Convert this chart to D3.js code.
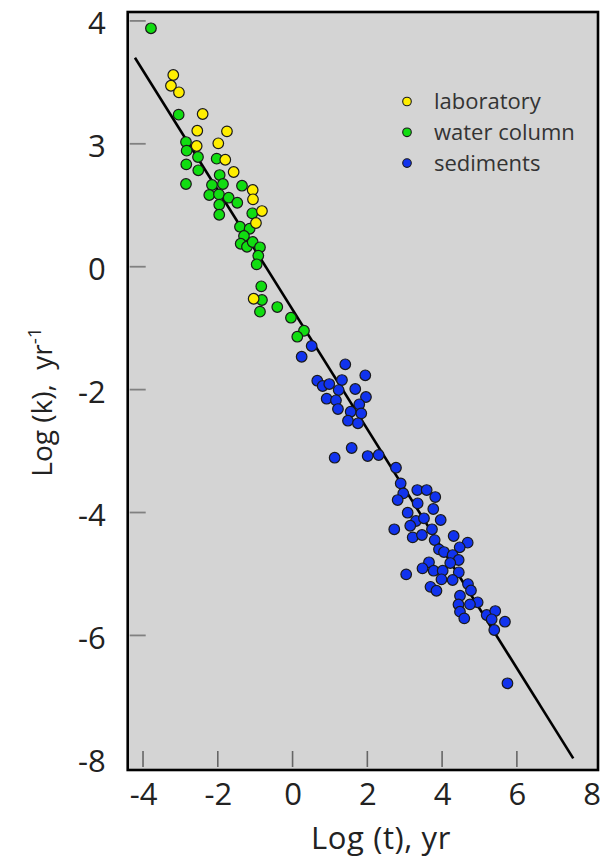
<!DOCTYPE html>
<html><head><meta charset="utf-8">
<script src="https://cdn.jsdelivr.net/npm/d3@7"></script>
<style>
html,body{margin:0;padding:0;background:#fff;}
svg text{font-family:"Open Sans",sans-serif;}
</style></head>
<body><svg id="c" width="606" height="859"></svg>
<script>
// ---- data ----
const labX = [-3.191,-3.253,-3.039,-2.405,-2.549,-1.755,-1.987,-2.565,-1.800,-1.576,-1.067,-1.059,-0.819,-0.979,-1.041];
const labY = [3.120,2.945,2.838,2.485,2.213,2.203,2.008,1.964,1.741,1.541,1.248,1.097,0.906,0.711,-0.521];
const watX = [-3.788,-3.047,-2.851,-2.833,-2.530,-2.030,-2.843,-2.522,-1.950,-2.851,-2.156,-1.862,-1.353,-2.228,-1.969,-1.709,-1.479,-1.961,-1.961,-1.078,-1.407,-1.148,-1.300,-1.388,-1.220,-1.067,-0.872,-0.917,-0.960,-0.837,-0.819,-0.872,-0.409,-0.043,0.305,0.126];
const watY = [3.880,2.474,2.029,1.888,1.785,1.758,1.666,1.569,1.492,1.346,1.330,1.346,1.318,1.167,1.178,1.123,1.041,1.009,0.846,0.869,0.651,0.618,0.500,0.374,0.325,0.402,0.316,0.179,0.039,-0.319,-0.542,-0.732,-0.656,-0.830,-1.042,-1.139];
const sedX = [0.511,0.243,1.410,0.661,0.805,0.982,1.321,1.945,1.233,1.677,0.912,1.161,1.963,1.214,1.784,1.554,1.838,1.482,1.749,1.581,1.126,2.009,2.303,2.766,2.892,2.961,2.811,3.336,3.587,3.817,3.346,3.764,3.079,3.301,3.515,3.962,3.148,2.720,3.729,3.213,3.461,4.309,3.801,4.684,4.470,3.916,4.050,4.282,4.443,4.218,3.649,3.475,3.774,4.015,4.446,3.039,3.983,4.282,3.689,3.849,4.692,4.772,4.478,4.951,4.438,4.745,4.478,4.593,5.192,5.422,5.326,5.681,5.395,5.748];
const sedY = [-1.290,-1.465,-1.588,-1.855,-1.941,-1.909,-1.844,-1.767,-2.007,-1.990,-2.148,-2.174,-2.120,-2.316,-2.239,-2.360,-2.386,-2.506,-2.548,-2.950,-3.108,-3.081,-3.064,-3.271,-3.525,-3.688,-3.797,-3.634,-3.634,-3.748,-3.850,-3.943,-4.003,-4.138,-4.094,-4.122,-4.215,-4.273,-4.273,-4.404,-4.366,-4.382,-4.448,-4.491,-4.566,-4.599,-4.643,-4.692,-4.773,-4.822,-4.810,-4.908,-4.947,-4.947,-4.973,-5.006,-5.087,-5.098,-5.209,-5.273,-5.164,-5.269,-5.354,-5.461,-5.497,-5.494,-5.614,-5.722,-5.668,-5.603,-5.738,-5.777,-5.912,-6.779];
const fitX = [-4.216, 7.508];
const fitY = [3.401, -8.0];
const xTickVals = [-4,-2,0,2,4,6,8];
const xTickLabels = ["-4","-2","0","2","4","6","8"];
const yTickVals = [4,2,0,-2,-4,-6,-8];
const yTickLabels = ["4","3","0","-2","-4","-6","-8"];
const seriesNames = ["laboratory","water column","sediments"];
const seriesColors = ["#ffee00","#11dd11","#1133ee"];

// ---- layout ----
const L = 127.7, R = 598, T = 12, B = 770;
const x = d3.scaleLinear().domain([-4.41, 8.17]).range([L, R]);
const y = d3.scaleLinear().domain([-8.19, 4.145]).range([B, T]);
const svg = d3.select("#c");

svg.append("rect").attr("x",L).attr("y",T).attr("width",R-L).attr("height",B-T)
  .attr("fill","#d4d4d4");

// inner tick marks
svg.append("g").selectAll("line").data(xTickVals.filter(v => v < 8)).join("line")
  .attr("x1",d=>x(d)).attr("x2",d=>x(d)).attr("y1",B-3).attr("y2",B-19)
  .attr("stroke","#666").attr("stroke-width",1.6);
svg.append("g").selectAll("line").data(yTickVals.filter(v => v > -8)).join("line")
  .attr("x1",L+2).attr("x2",L+18).attr("y1",d=>y(d)).attr("y2",d=>y(d))
  .attr("stroke","#808080").attr("stroke-width",1.8);

// axes labels via d3 axes
const xAxis = d3.axisBottom(x).tickValues(xTickVals).tickSize(0).tickPadding(13)
  .tickFormat((d,i)=>xTickLabels[i]);
const gx = svg.append("g").attr("transform",`translate(0,${B})`).call(xAxis);
gx.select(".domain").remove();
gx.selectAll("text").attr("font-size",31).attr("fill","#222").attr("font-family","Open Sans");

const yAxis = d3.axisLeft(y).tickValues(yTickVals).tickSize(0).tickPadding(22)
  .tickFormat((d,i)=>yTickLabels[i]);
const gy = svg.append("g").attr("transform",`translate(${L},0)`).call(yAxis);
gy.select(".domain").remove();
gy.selectAll("text").attr("font-size",31).attr("dy","0.42em").attr("fill","#222").attr("font-family","Open Sans");

// fit line
const lineData = fitX.map((v,i)=>[v, fitY[i]]);
svg.append("path").datum(lineData)
  .attr("d", d3.line().x(d=>x(d[0])).y(d=>y(d[1])))
  .attr("stroke","#000").attr("stroke-width",2.6).attr("fill","none");

// points
const groups = [[labX,labY],[watX,watY],[sedX,sedY]];
[1,0,2].forEach(gi => {
  const [xs, ys] = groups[gi];
  svg.append("g").selectAll("circle").data(xs.map((v,i)=>[v, ys[i]])).join("circle")
    .attr("cx",d=>x(d[0])).attr("cy",d=>y(d[1])).attr("r",5.3)
    .attr("fill",seriesColors[gi]).attr("stroke","#1a1a1a").attr("stroke-width",1.2);
});

// frame
svg.append("rect").attr("x",L).attr("y",T).attr("width",R-L).attr("height",B-T)
  .attr("fill","none").attr("stroke","#000").attr("stroke-width",2.6);

// legend
const lg = svg.append("g");
seriesNames.forEach((n,i)=>{
  const cy = 101.5 + i*30.8;
  lg.append("circle").attr("cx",407).attr("cy",cy).attr("r",4.3)
    .attr("fill",seriesColors[i]).attr("stroke","#1a1a1a").attr("stroke-width",1.1);
  lg.append("text").attr("x",434).attr("y",cy+7.5).attr("font-size",22).attr("fill","#333").text(n);
});

// axis titles
svg.append("text").attr("x",381).attr("y",849).attr("text-anchor","middle")
  .attr("font-size",31).attr("letter-spacing",0.6).attr("fill","#222").text("Log (t), yr");
const yt = svg.append("text").attr("transform","translate(52,402) rotate(-90)")
  .attr("text-anchor","middle").attr("font-size",28).attr("fill","#222");
yt.append("tspan").text("Log (k),\u00a0 yr");
yt.append("tspan").attr("dy",-11).attr("font-size",19).text("-1");
</script></body></html>
